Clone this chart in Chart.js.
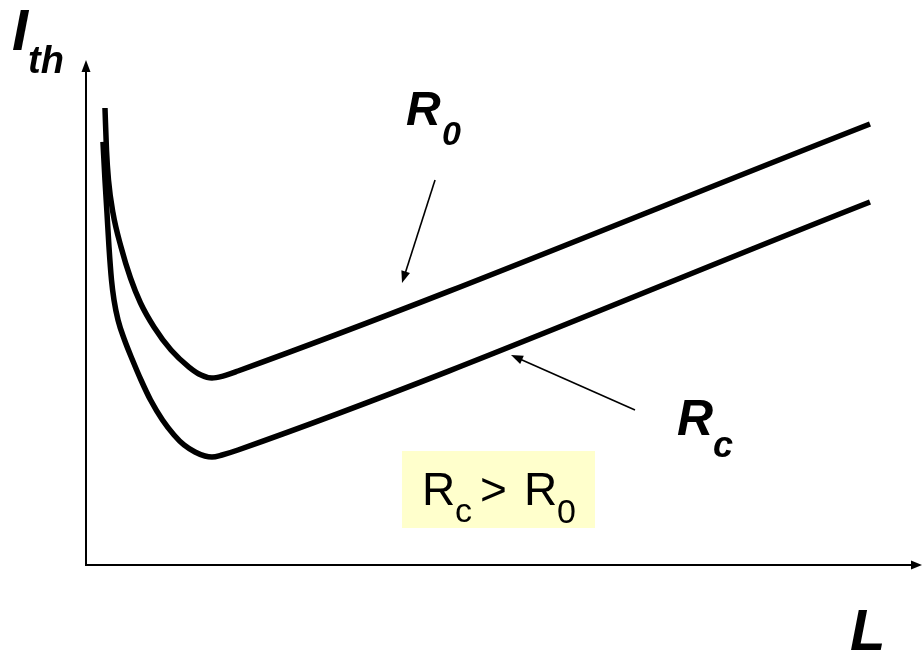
<!DOCTYPE html>
<html>
<head>
<meta charset="utf-8">
<script src="https://cdn.jsdelivr.net/npm/chart.js@4/dist/chart.umd.min.js"></script>
<style>
  html, body { margin: 0; padding: 0; background: #ffffff; }
  #wrap { width: 922px; height: 651px; }
</style>
</head>
<body>
<div id="wrap"><canvas id="c" width="922" height="651"></canvas></div>
<script>
// Cavity length L (arbitrary units) and threshold current I_th (arbitrary units)
const L_R0   = [2.27, 2.45, 2.69, 3.23, 4.19, 5.32, 6.52, 8.13, 10.17, 12.32, 13.76, 15.07, 16.27, 18.18, 93.78];
const Ith_R0 = [54.30, 49.31, 45.74, 41.82, 37.78, 34.10, 31.13, 28.28, 25.54, 23.52, 22.57, 22.22, 22.42, 23.05, 52.40];
const L_Rc   = [2.03, 2.27, 2.51, 2.75, 3.05, 3.35, 3.83, 4.61, 5.56, 6.58, 7.72, 9.15, 10.53, 11.72, 13.04, 14.23, 15.07, 16.27, 18.18, 93.78];
const Ith_Rc = [50.26, 45.74, 41.82, 37.78, 33.86, 31.49, 29.11, 26.73, 24.36, 21.98, 19.60, 17.23, 15.45, 14.26, 13.43, 12.95, 12.83, 13.07, 13.66, 43.13];
const seriesNames = ['R0', 'Rc'];

function toXY(xs, ys) { return xs.map((x, i) => ({ x: x, y: ys[i] })); }

function arrow(ctx, x1, y1, x2, y2, len, half, lw) {
  const a = Math.atan2(y2 - y1, x2 - x1);
  ctx.save();
  ctx.strokeStyle = '#000'; ctx.fillStyle = '#000'; ctx.lineWidth = lw;
  ctx.beginPath();
  ctx.moveTo(x1, y1);
  ctx.lineTo(x2 - Math.cos(a) * len * 0.8, y2 - Math.sin(a) * len * 0.8);
  ctx.stroke();
  ctx.beginPath();
  ctx.moveTo(x2, y2);
  ctx.lineTo(x2 - Math.cos(a) * len + Math.sin(a) * half, y2 - Math.sin(a) * len - Math.cos(a) * half);
  ctx.lineTo(x2 - Math.cos(a) * len - Math.sin(a) * half, y2 - Math.sin(a) * len + Math.cos(a) * half);
  ctx.closePath();
  ctx.fill();
  ctx.restore();
}

const decor = {
  id: 'decor',
  beforeDraw(chart) {
    const ctx = chart.ctx;
    ctx.save();
    ctx.fillStyle = '#ffffff';
    ctx.fillRect(0, 0, chart.width, chart.height);
    ctx.restore();
  },
  afterDraw(chart) {
    const ctx = chart.ctx;
    const xs = chart.scales.x, ys = chart.scales.y;
    const ca = chart.chartArea;
    const x0 = xs.getPixelForValue(0), y0 = ys.getPixelForValue(0);
    // axes with arrows
    arrow(ctx, x0, y0 + 1, x0, ca.top, 12, 4.5, 2);
    arrow(ctx, x0 - 1, y0, ca.right, y0, 11, 4.5, 2);

    // pointer arrows to curves (in data units)
    arrow(ctx, xs.getPixelForValue(41.75), ys.getPixelForValue(45.74),
               xs.getPixelForValue(37.80), ys.getPixelForValue(33.50), 12, 4.5, 1.6);
    arrow(ctx, xs.getPixelForValue(65.67), ys.getPixelForValue(18.42),
               xs.getPixelForValue(50.84), ys.getPixelForValue(24.95), 12, 4.5, 1.6);

    ctx.save();
    ctx.fillStyle = '#000';
    ctx.textAlign = 'left';
    ctx.textBaseline = 'alphabetic';
    const BI = 'italic bold ';
    const F = 'px "Liberation Sans", Arial, sans-serif';
    // axis titles
    ctx.font = BI + '58' + F; ctx.fillText('I', 12, 50);
    ctx.font = BI + '38' + F; ctx.fillText('th', 28, 73);
    ctx.font = BI + '58' + F; ctx.fillText('L', 850, 650);
    // curve labels
    ctx.font = BI + '48' + F; ctx.fillText('R', 406, 125);
    ctx.font = BI + '34' + F; ctx.fillText('0', 442, 145);
    ctx.font = BI + '50' + F; ctx.fillText('R', 677, 435);
    ctx.font = BI + '36' + F; ctx.fillText('c', 713, 457);

    // condition box
    ctx.fillStyle = '#FFFFCC';
    ctx.fillRect(402, 451, 193, 77);
    ctx.fillStyle = '#000';
    ctx.font = '46' + F; ctx.fillText('R', 422, 505);
    ctx.font = '34' + F; ctx.fillText('c', 455, 522);
    ctx.font = '46' + F; ctx.fillText('>', 480, 505);
    ctx.font = '46' + F; ctx.fillText('R', 524, 505);
    ctx.font = '34' + F; ctx.fillText('0', 557, 523);
    ctx.restore();
  }
};

new Chart(document.getElementById('c'), {
  type: 'line',
  data: {
    datasets: [
      { label: seriesNames[0], data: toXY(L_R0, Ith_R0) },
      { label: seriesNames[1], data: toXY(L_Rc, Ith_Rc) }
    ].map(d => Object.assign(d, {
      borderColor: '#000000',
      borderWidth: 5.5,
      pointRadius: 0,
      fill: false,
      cubicInterpolationMode: 'monotone',
      borderCapStyle: 'butt',
      borderJoinStyle: 'round'
    }))
  },
  options: {
    responsive: false,
    animation: false,
    events: [],
    layout: { padding: { left: 86, right: 0, top: 60, bottom: 86 } },
    plugins: { legend: { display: false }, tooltip: { enabled: false }, title: { display: false } },
    scales: {
      x: { type: 'linear', min: 0, max: 100, display: false },
      y: { type: 'linear', min: 0, max: 60, display: false }
    },
    elements: { line: { clip: false, capBezierPoints: false } }
  },
  plugins: [decor]
});
</script>
</body>
</html>
